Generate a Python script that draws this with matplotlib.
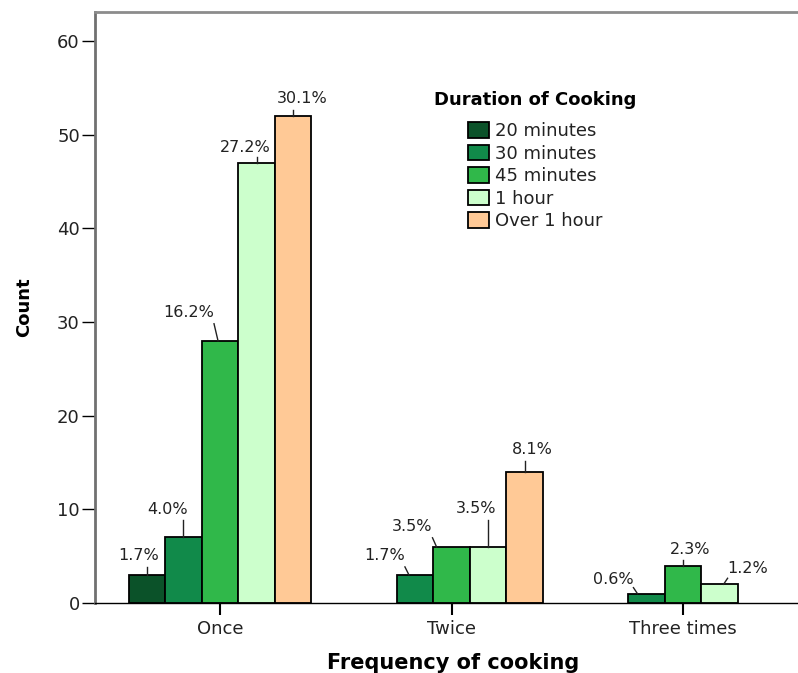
import matplotlib.pyplot as plt
from matplotlib.lines import Line2D
from matplotlib.transforms import IdentityTransform
import numpy as np

# counts per cooking frequency, one list per duration
frequency = ['Once', 'Twice', 'Three times']
durations = ['20 minutes', '30 minutes', '45 minutes', '1 hour', 'Over 1 hour']
count_20min = [3, 0, 0]
count_30min = [7, 3, 1]
count_45min = [28, 6, 4]
count_1hour = [47, 6, 2]
count_over1h = [52, 14, 0]

colors = ['#0b5229', '#118a4a', '#30b84a', '#ccffcc', '#ffc996']

# percent label centre relative to its bar top (pixels: dx, dy up)
label_offsets = [
    [(-8, 19), None, None],
    [(-16, 28), (-30, 19), (-33, 14)],
    [(-31, 28), (-39, 20), (7, 16)],
    [(-11, 15), (-12, 38), (28, 16)],
    [(9, 17), (8, 22), None],
]

series = [count_20min, count_30min, count_45min, count_1hour, count_over1h]
total = sum(sum(s) for s in series)

fig = plt.figure(figsize=(7.98, 6.73), dpi=100, facecolor='white')
ax = fig.add_axes([95 / 798, 1 - 603 / 673, 1 - 95 / 798, (603 - 12) / 673])

x = np.arange(len(frequency))
width = 0.158
ax.set_xlim(-0.54, -0.54 + 703 / 231.5)
ax.set_ylim(0, 63.1)

for i, (vals, name) in enumerate(zip(series, durations)):
    pos = x + (i - 2) * width
    vals = np.array(vals)
    keep = vals > 0
    ax.bar(pos[keep], vals[keep], width, color=colors[i], edgecolor='black',
           linewidth=1.3, label=name, zorder=2)
    for j, v in enumerate(vals):
        if v == 0 or label_offsets[i][j] is None:
            continue
        dx, dy = label_offsets[i][j]
        txt = '%.1f%%' % (100.0 * v / total)
        ax.annotate(txt, xy=(pos[j], v), xytext=(dx, dy),
                    textcoords='offset pixels', ha='center', va='center',
                    fontsize=11.5, color='#222222')
        # leader line: from just under the text down to the bar top
        bx, by = ax.transData.transform((pos[j], v))
        tx, ty = bx + dx, by + dy
        hw = len(txt) * 5.0
        x_top = tx + np.clip(bx - tx, -hw, hw)
        x_bot = x_top + np.clip(bx - x_top, -4, 4)
        y_top = ty - min(11, dy - 6)
        ax.add_line(Line2D([x_top, x_bot], [y_top, by], color='#222222',
                           lw=1, transform=IdentityTransform(), zorder=3))

ax.set_yticks([0, 10, 20, 30, 40, 50, 60])
ax.set_xticks(x)
ax.set_xticklabels(frequency)

ax.spines['right'].set_visible(False)
ax.spines['left'].set_color('#707070')
ax.spines['left'].set_linewidth(2)
ax.spines['top'].set_color('#8c8c8c')
ax.spines['top'].set_linewidth(2)
ax.spines['bottom'].set_color('black')
ax.spines['bottom'].set_linewidth(1)

ax.tick_params(axis='y', length=9.4, width=1, pad=1.5, labelsize=13,
               labelcolor='#222222')
ax.tick_params(axis='x', length=8.6, width=1.5, pad=4, labelsize=13,
               labelcolor='#222222')

fig.text(24 / 798, 1 - 307 / 673, 'Count', rotation=90, ha='center',
         va='center', fontsize=13, fontweight='bold')
fig.text(453 / 798, 1 - 663 / 673, 'Frequency of cooking', ha='center',
         va='center', fontsize=15, fontweight='bold')

fig.text(535 / 798, 1 - 100 / 673, 'Duration of Cooking', ha='center',
         va='center', fontsize=13, fontweight='bold')
leg = ax.legend(loc='upper center', bbox_to_anchor=(535 / 798, 1 - 113 / 673),
                bbox_transform=fig.transFigure, frameon=False, fontsize=13,
                handlelength=1.17, handleheight=0.95, handletextpad=0.35,
                labelspacing=0.25, borderpad=0)
for t in leg.get_texts():
    t.set_color('#222222')

plt.savefig('out.png', dpi=100)
